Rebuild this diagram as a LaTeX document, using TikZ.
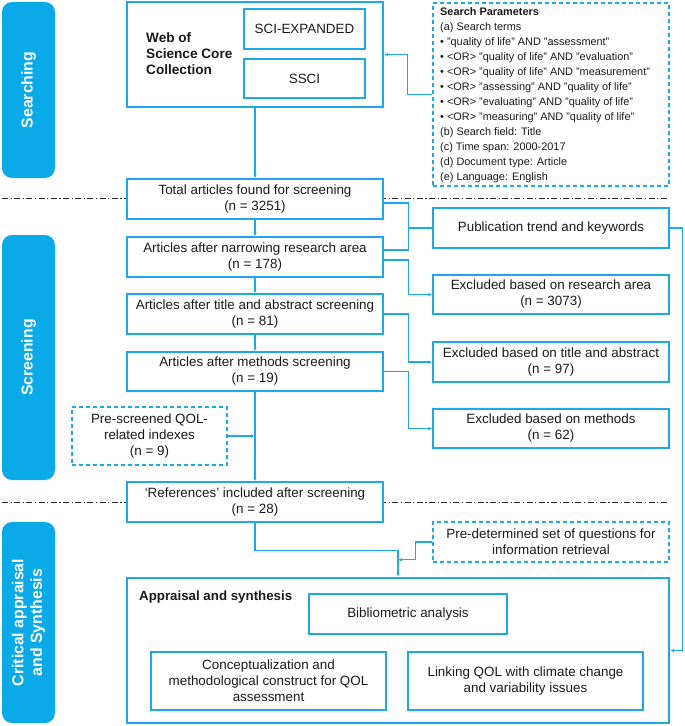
\documentclass[tikz,border=0pt]{standalone}
\usepackage{fontspec}
\setmainfont{Liberation Sans}
\usetikzlibrary{arrows.meta,calc}
\definecolor{cy}{HTML}{1CA9E6}
\definecolor{bar}{HTML}{0AAAE8}
\definecolor{tx}{HTML}{1A1A1A}
\begin{document}
\begin{tikzpicture}[x=1pt,y=-1pt,
  box/.style={draw=cy,line width=1.3pt,fill=white,inner sep=0pt,align=center,text=tx,font=\fontsize{13.4}{16}\selectfont},
  thickbox/.style={box,line width=2.4pt},
  dbox/.style={box,dashed,dash pattern=on 4pt off 3pt},
  sidebar/.style={fill=bar,draw=none,rounded corners=10pt,inner sep=0pt},
  sidetext/.style={text=white,font=\fontsize{15.8}{18.5}\selectfont\bfseries,align=center,rotate=90},
  conn/.style={draw=cy,line width=1.2pt},
  arr/.style={conn,-{Latex[length=4pt,width=3.5pt]}},
  sep/.style={draw=black!85,line width=0.9pt,dash pattern=on 6pt off 2.5pt on 1.2pt off 2.5pt}
]
\useasboundingbox (0,0) rectangle (685,726);
% separators
\draw[sep] (2,198) -- (668,198);
\draw[sep] (2,502) -- (668,502);
% side bars
\node[sidebar,minimum width=53pt,minimum height=176pt] (bs) at (28.5,90) {};
\node[sidetext] (ts) at (bs.center) {Searching};
\node[sidebar,minimum width=53pt,minimum height=245pt] (bsc) at (28.5,357.5) {};
\node[sidetext] (tsc) at (bsc.center) {Screening};
\node[sidebar,minimum width=53pt,minimum height=201pt] (bc) at (28.5,622.5) {};
\node[sidetext] (tc) at (bc.center) {Critical appraisal\\and Synthesis};
% searching
\node[thickbox,minimum width=256pt,minimum height=105pt] (wos) at (255,54.5) {};
\node[anchor=west,inner sep=0pt,align=left,text=tx,font=\fontsize{13.6}{16}\selectfont\bfseries] (wost) at (146,54) {Web of\\Science Core\\Collection};
\node[box,minimum width=121pt,minimum height=40pt] (sci) at (304.5,29) {SCI-EXPANDED};
\node[box,minimum width=121pt,minimum height=39pt] (ssci) at (304.5,78.5) {SSCI};
\node[dbox,minimum width=236pt,minimum height=183pt] (params) at (551,94.5) {};
\node[anchor=north west,inner sep=0pt,align=left,text=tx,font=\fontsize{10.9}{15}\selectfont] (pt) at (440,7) {\textbf{Search Parameters}\\
(a) Search terms\\
• "quality of life" AND "assessment"\\
• <OR> "quality of life" AND "evaluation"\\
• <OR> "quality of life" AND "measurement"\\
• <OR> "assessing" AND "quality of life"\\
• <OR> "evaluating" AND "quality of life"\\
• <OR> "measuring" AND "quality of life"\\
(b) Search field: Title\\
(c) Time span: 2000-2017\\
(d) Document type: Article\\
(e) Language: English};
% screening
\node[box,minimum width=256pt,minimum height=40pt] (total) at (255,199) {Total articles found for screening\\(n = 3251)};
\node[box,minimum width=256pt,minimum height=40pt] (narrow) at (255,257) {Articles after narrowing research area\\(n = 178)};
\node[box,minimum width=256pt,minimum height=40pt] (title) at (255,314) {Articles after title and abstract screening\\(n = 81)};
\node[box,minimum width=256pt,minimum height=39pt] (meth) at (255,371.5) {Articles after methods screening\\(n = 19)};
\node[box,minimum width=256pt,minimum height=40pt] (refs) at (255,502) {‘References’ included after screening\\(n = 28)};
\node[thickbox,minimum width=236pt,minimum height=40pt] (pub) at (551,228) {Publication trend and keywords};
\node[box,minimum width=236pt,minimum height=39pt] (exres) at (551,294.5) {Excluded based on research area\\(n = 3073)};
\node[box,minimum width=236pt,minimum height=40pt] (extit) at (551,362) {Excluded based on title and abstract\\(n = 97)};
\node[box,minimum width=236pt,minimum height=39pt] (exmeth) at (551,428.5) {Excluded based on methods\\(n = 62)};
\node[dbox,minimum width=155pt,minimum height=58pt] (pre) at (149.5,436) {Pre-screened QOL-\\related indexes\\(n = 9)};
% appraisal
\node[dbox,minimum width=236pt,minimum height=40pt] (predet) at (551,542) {Pre-determined set of questions for\\information retrieval};
\node[thickbox,minimum width=542pt,minimum height=145pt] (appr) at (398,650.5) {};
\node[anchor=west,inner sep=0pt,text=tx,font=\fontsize{13.3}{16}\selectfont\bfseries] (apprt) at (139,597) {Appraisal and synthesis};
\node[box,minimum width=198pt,minimum height=40pt] (bib) at (408,614) {Bibliometric analysis};
\node[box,minimum width=235pt,minimum height=58pt] (conc) at (268.5,681) {Conceptualization and\\methodological construct for QOL\\assessment};
\node[box,minimum width=235pt,minimum height=58pt] (link) at (525.5,681) {Linking QOL with climate change\\and variability issues};
% connectors
\draw[arr] (wos.south) -- (total.north);
\draw[arr] (params.west) -- ++(-25,0) |- (wos.east);
\draw[arr] (total.south) -- (narrow.north);
\draw[arr] (narrow.south) -- (title.north);
\draw[arr] (title.south) -- (meth.north);
\draw[arr] (meth.south) -- (refs.north);
\draw[arr] ([yshift=-4pt]total.east) -- ++(25,0) |- (pub.west);
\draw[conn] ([yshift=7pt]narrow.east) -- ++(25,0) |- (pub.west);
\draw[arr] ([yshift=-3pt]narrow.east) -- ++(25,0) |- (exres.west);
\draw[arr] (title.east) -- ++(25,0) |- (extit.west);
\draw[arr] (meth.east) -- ++(25,0) |- (exmeth.west);
\draw[arr] (pre.east) -- (pre.east -| meth.south);
\draw[arr] (refs.south) -- ++(0,28) -| (appr.north);
\coordinate (pj) at ($(appr.north)+(0,-17)$);
\draw[arr] (predet.west) -- ++(-17,0) |- (pj);
\draw[arr] (pub.east) -- ++(12,0) |- (appr.east);
\end{tikzpicture}
\end{document}
